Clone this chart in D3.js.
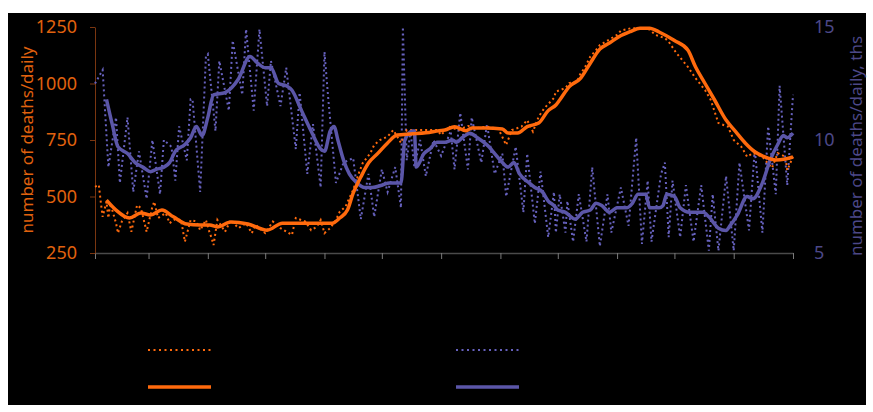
<!DOCTYPE html>
<html>
<head>
<meta charset="utf-8">
<script src="https://cdn.jsdelivr.net/npm/d3@7"></script>
<style>
  body { margin: 0; background: #fff; }
  .label { font-family: "Noto Sans", "Open Sans", sans-serif; }
</style>
</head>
<body>
<div id="chart"></div>
<script>
// day numbers are counted from the 1st of February
var orangeDailyDays = [0, 2, 3, 4, 6, 7, 8, 11, 12, 14, 17, 19, 22, 24, 27, 30, 31, 33, 37, 39, 42, 45, 47, 50, 53, 55, 58, 60, 61, 62, 64, 68, 71, 75, 79, 82, 84, 89, 93, 97, 103, 105, 110, 113, 116, 118, 120, 123, 126, 128, 131, 133, 135, 138, 140, 144, 146, 149, 153, 156, 160, 163, 169, 174, 179, 181, 185, 190, 195, 200, 205, 211, 215, 218, 223, 226, 229, 232, 235, 240, 241, 246, 248, 252, 254, 256, 259, 262, 264, 268, 273, 275, 280, 285, 290, 293, 298, 300, 304, 310, 314, 319, 322, 326, 331, 334, 338, 341, 344, 349, 354, 357, 361, 362, 365];
var orangeDaily = [543, 551, 477, 410, 477, 405, 470, 382, 338, 389, 427, 344, 462, 449, 344, 455, 477, 405, 427, 382, 400, 396, 300, 396, 390, 351, 396, 338, 316, 285, 396, 344, 396, 360, 382, 338, 375, 338, 389, 360, 330, 405, 389, 351, 366, 396, 338, 360, 396, 433, 455, 493, 529, 604, 648, 692, 728, 750, 765, 794, 737, 794, 794, 794, 794, 772, 809, 794, 812, 803, 809, 799, 728, 794, 809, 838, 787, 853, 891, 936, 964, 980, 1002, 1008, 1046, 1068, 1119, 1148, 1170, 1190, 1215, 1234, 1244, 1244, 1239, 1215, 1201, 1185, 1135, 1074, 1024, 971, 927, 825, 809, 750, 720, 676, 692, 676, 626, 692, 676, 617, 676];

var orangeAvgDays = [6, 11, 18, 24, 29, 35, 41, 48, 55, 60, 64, 71, 80, 90, 98, 108, 120, 124, 128, 132, 135, 139, 143, 148, 153, 158, 165, 173, 180, 183, 188, 194, 197, 204, 213, 216, 221, 226, 232, 237, 241, 243, 248, 254, 259, 264, 269, 274, 280, 285, 290, 295, 303, 310, 314, 319, 324, 330, 335, 340, 345, 350, 356, 361, 365];
var orangeAvg = [484, 440, 405, 427, 418, 440, 410, 378, 374, 374, 365, 387, 378, 351, 382, 382, 382, 382, 405, 440, 515, 586, 648, 692, 737, 772, 777, 782, 791, 794, 809, 791, 803, 803, 799, 781, 781, 809, 825, 880, 905, 927, 986, 1024, 1090, 1152, 1179, 1207, 1230, 1245, 1245, 1228, 1190, 1148, 1074, 1000, 927, 838, 787, 737, 698, 676, 661, 666, 675];

var purpleDailyDays = [0, 4, 7, 11, 13, 17, 20, 23, 27, 30, 34, 36, 40, 42, 44, 48, 50, 51, 55, 58, 59, 63, 65, 70, 72, 77, 79, 83, 86, 90, 92, 97, 100, 105, 107, 111, 114, 118, 120, 122, 126, 130, 135, 139, 143, 146, 150, 153, 157, 160, 161, 163, 165, 167, 170, 173, 177, 181, 186, 188, 191, 195, 197, 202, 205, 209, 213, 215, 220, 224, 226, 230, 233, 237, 240, 241, 243, 246, 247, 250, 253, 257, 260, 264, 268, 270, 275, 279, 283, 286, 289, 291, 296, 298, 300, 302, 306, 309, 313, 317, 321, 323, 326, 330, 334, 337, 342, 345, 349, 352, 356, 358, 362, 365];
var purpleDaily = [12.5, 13.1, 8.8, 11.0, 8.1, 11.0, 7.7, 9.5, 7.4, 10.0, 7.6, 10.0, 9.7, 8.2, 10.6, 9.1, 11.8, 11.8, 7.7, 13.7, 13.8, 10.4, 13.5, 11.3, 14.4, 12.0, 14.9, 11.3, 14.9, 11.5, 13.5, 11.5, 13.2, 9.6, 12.1, 8.5, 10.7, 7.9, 13.9, 11.8, 8.1, 9.0, 9.2, 6.5, 8.5, 6.6, 8.7, 7.7, 8.8, 7.0, 15.0, 9.1, 10.4, 8.8, 10.0, 8.4, 10.0, 9.3, 10.4, 8.7, 11.2, 8.7, 11.0, 9.0, 10.7, 8.5, 9.4, 7.5, 9.7, 6.8, 9.4, 6.3, 8.6, 5.7, 7.7, 5.9, 7.6, 5.9, 7.3, 5.5, 7.6, 5.5, 8.8, 5.3, 7.6, 5.9, 7.9, 6.2, 10.1, 5.4, 8.2, 5.5, 8.5, 9.0, 5.7, 8.2, 5.7, 8.0, 5.5, 8.0, 5.1, 7.6, 5.1, 8.4, 5.1, 9.0, 6.0, 9.6, 5.9, 10.6, 7.6, 12.4, 8.0, 12.0];

var purpleAvgDays = [6, 9, 12, 17, 21, 25, 29, 32, 36, 39, 42, 47, 50, 53, 56, 59, 62, 68, 75, 81, 85, 89, 92, 96, 100, 103, 108, 113, 118, 120, 123, 125, 127, 130, 133, 137, 141, 145, 150, 154, 159, 160, 162, 166, 167, 168, 172, 175, 179, 183, 187, 189, 192, 196, 200, 206, 209, 213, 216, 219, 222, 227, 230, 234, 237, 240, 242, 246, 251, 255, 259, 262, 265, 269, 273, 278, 281, 284, 288, 290, 295, 297, 299, 303, 306, 311, 315, 318, 321, 326, 330, 332, 336, 341, 344, 349, 353, 357, 360, 362, 365];
var purpleAvg = [11.8, 10.7, 9.7, 9.4, 9.0, 8.8, 8.6, 8.7, 8.8, 9.0, 9.5, 9.8, 10.1, 10.6, 10.2, 11.0, 12.0, 12.1, 12.7, 13.7, 13.4, 13.2, 13.2, 12.5, 12.4, 12.2, 11.3, 10.4, 9.6, 9.5, 10.4, 10.6, 10.0, 9.1, 8.5, 8.1, 7.9, 7.9, 8.0, 8.1, 8.1, 8.1, 10.0, 10.4, 10.4, 8.8, 9.4, 9.6, 9.9, 9.9, 10.0, 9.9, 10.1, 10.3, 10.1, 9.7, 9.4, 9.0, 8.8, 9.0, 8.5, 8.1, 7.9, 7.7, 7.3, 7.1, 6.9, 6.8, 6.5, 6.8, 6.9, 7.2, 7.1, 6.8, 7.0, 7.0, 7.2, 7.6, 7.6, 7.0, 7.0, 7.1, 7.6, 7.5, 7.0, 6.8, 6.8, 6.8, 6.6, 6.1, 6.0, 6.2, 6.7, 7.5, 7.4, 8.1, 9.1, 9.8, 10.2, 10.1, 10.3];

var leftTicks = [250, 500, 750, 1000, 1250];
var rightTicks = [5, 10, 15];

var orangeColor = "#ff6a0d";
var purpleColor = "#5b56a8";
var purpleDotColor = "#6661bd";

var width = 873, height = 412;
var plot = {left: 95, right: 793, top: 27, bottom: 253};

var svg = d3.select("#chart")
  .append("svg")
    .attr("width", width)
    .attr("height", height);

svg.append("rect")
  .attr("x", 8)
  .attr("y", 13)
  .attr("width", 858)
  .attr("height", 392)
  .attr("fill", "#000");

var startDate = new Date(2021, 1, 1);
var endDate = new Date(2022, 1, 1);
function toDate(d) { return d3.timeDay.offset(startDate, d); }

var xScale = d3.scaleTime()
  .domain([startDate, endDate])
  .range([plot.left, plot.right]);

var yLeft = d3.scaleLinear()
  .domain([250, 1250])
  .range([plot.bottom, plot.top]);

var yRight = d3.scaleLinear()
  .domain([5, 15])
  .range([plot.bottom, plot.top]);

// x axis, month ticks, no labels
var xAxis = svg.append("g")
  .attr("transform", "translate(0," + plot.bottom + ")")
  .call(d3.axisBottom(xScale)
    .ticks(d3.timeMonth.every(1))
    .tickSize(6)
    .tickSizeOuter(0)
    .tickFormat(""));
xAxis.select(".domain").attr("stroke", "#4a4a4a").attr("stroke-width", 1.5);
xAxis.selectAll(".tick line").attr("stroke", "#7a7a7a");

var leftAxis = svg.append("g")
  .attr("transform", "translate(" + plot.left + ",0)")
  .call(d3.axisLeft(yLeft)
    .tickValues(leftTicks)
    .tickFormat(d3.format("d"))
    .tickSize(5)
    .tickSizeOuter(0)
    .tickPadding(13));
leftAxis.select(".domain").attr("stroke", "#7a3610");
leftAxis.selectAll(".tick line").attr("stroke", "#7a3610");
leftAxis.selectAll(".tick text")
  .attr("class", "label")
  .attr("fill", "#e0620e")
  .style("font-size", "18px");

var rightAxis = svg.append("g")
  .attr("transform", "translate(" + plot.right + ",0)")
  .call(d3.axisRight(yRight)
    .tickValues(rightTicks)
    .tickSize(0)
    .tickPadding(21));
rightAxis.select(".domain").remove();
rightAxis.selectAll(".tick text")
  .attr("class", "label")
  .attr("fill", "#4c4888")
  .style("font-size", "18px");

svg.append("text")
  .attr("class", "label")
  .attr("transform", "translate(27,140)rotate(-90)")
  .attr("text-anchor", "middle")
  .attr("dy", "0.35em")
  .attr("fill", "#e0620e")
  .style("font-size", "17px")
  .text("number of deaths/daily");

svg.append("text")
  .attr("class", "label")
  .attr("transform", "translate(856,146)rotate(-90)")
  .attr("text-anchor", "middle")
  .attr("dy", "0.35em")
  .attr("fill", "#4c4888")
  .style("font-size", "17px")
  .text("number of deaths/daily, ths");

function pairs(days, vals) {
  return days.map(function(d, i) { return [toDate(d), vals[i]]; });
}

var lineLeft = d3.line()
  .x(function(d) { return xScale(d[0]); })
  .y(function(d) { return yLeft(d[1]); });

var lineRight = d3.line()
  .x(function(d) { return xScale(d[0]); })
  .y(function(d) { return yRight(d[1]); });

var smoothLeft = d3.line()
  .curve(d3.curveMonotoneX)
  .x(function(d) { return xScale(d[0]); })
  .y(function(d) { return yLeft(d[1]); });

var smoothRight = d3.line()
  .curve(d3.curveMonotoneX)
  .x(function(d) { return xScale(d[0]); })
  .y(function(d) { return yRight(d[1]); });

svg.append("path")
  .attr("d", lineRight(pairs(purpleDailyDays, purpleDaily)))
  .attr("fill", "none")
  .attr("stroke", purpleDotColor)
  .attr("stroke-width", 2)
  .attr("stroke-dasharray", "2,3");

svg.append("path")
  .attr("d", lineLeft(pairs(orangeDailyDays, orangeDaily)))
  .attr("fill", "none")
  .attr("stroke", orangeColor)
  .attr("stroke-width", 2)
  .attr("stroke-dasharray", "2,3");

svg.append("path")
  .attr("d", smoothRight(pairs(purpleAvgDays, purpleAvg)))
  .attr("fill", "none")
  .attr("stroke", purpleColor)
  .attr("stroke-width", 3.5)
  .attr("stroke-linejoin", "round");

svg.append("path")
  .attr("d", smoothLeft(pairs(orangeAvgDays, orangeAvg)))
  .attr("fill", "none")
  .attr("stroke", orangeColor)
  .attr("stroke-width", 3.5)
  .attr("stroke-linejoin", "round");

// legend (labels are not visible on the black background)
var legendItems = [
  {x: 148, y: 350, color: orangeColor, dash: "2,3.5", w: 2},
  {x: 148, y: 387, color: orangeColor, dash: null, w: 3.5},
  {x: 456, y: 350, color: purpleDotColor, dash: "2,3.5", w: 2},
  {x: 456, y: 387, color: purpleColor, dash: null, w: 3.5}
];

svg.append("g")
  .selectAll("line")
  .data(legendItems)
  .enter()
  .append("line")
    .attr("x1", function(d) { return d.x; })
    .attr("x2", function(d) { return d.x + 63; })
    .attr("y1", function(d) { return d.y; })
    .attr("y2", function(d) { return d.y; })
    .attr("stroke", function(d) { return d.color; })
    .attr("stroke-width", function(d) { return d.w; })
    .attr("stroke-dasharray", function(d) { return d.dash; });
</script>
</body>
</html>
